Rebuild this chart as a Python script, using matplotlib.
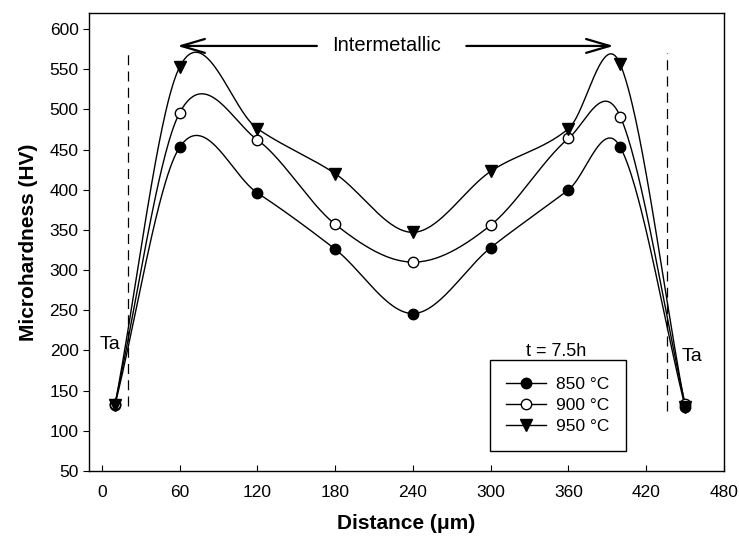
import numpy as np
import matplotlib
matplotlib.use("Agg")
import matplotlib.pyplot as plt

plt.rcParams['font.family'] = ['Liberation Sans', 'DejaVu Sans']

distance = [10, 60, 120, 180, 240, 300, 360, 400, 450]
hv_850 = [132, 453, 396, 326, 246, 328, 400, 453, 130]
hv_900 = [133, 496, 462, 357, 310, 356, 464, 491, 133]
hv_950 = [132, 553, 476, 420, 347, 423, 476, 556, 130]
labels = ['850 °C', '900 °C', '950 °C']
xticks = [0, 60, 120, 180, 240, 300, 360, 420, 480]
yticks = [50, 100, 150, 200, 250, 300, 350, 400, 450, 500, 550, 600]


def smooth_curve(x, y, per_seg=60):
    """Catmull-Rom (non-uniform) Hermite spline through the points."""
    x = np.asarray(x, float)
    y = np.asarray(y, float)
    k = len(x)
    m = np.zeros(k)
    m[0] = (y[1] - y[0]) / (x[1] - x[0])
    m[-1] = (y[-1] - y[-2]) / (x[-1] - x[-2])
    for i in range(1, k - 1):
        m[i] = (y[i + 1] - y[i - 1]) / (x[i + 1] - x[i - 1])
    xs_all, ys_all = [], []
    for i in range(k - 1):
        h = x[i + 1] - x[i]
        t = np.linspace(0, 1, per_seg, endpoint=(i == k - 2))
        h00 = 2 * t ** 3 - 3 * t ** 2 + 1
        h10 = t ** 3 - 2 * t ** 2 + t
        h01 = -2 * t ** 3 + 3 * t ** 2
        h11 = t ** 3 - t ** 2
        xs_all.append(x[i] + t * h)
        ys_all.append(h00 * y[i] + h10 * h * m[i] + h01 * y[i + 1] + h11 * h * m[i + 1])
    return np.concatenate(xs_all), np.concatenate(ys_all)


fig = plt.figure(figsize=(7.39, 5.4), dpi=100)
ax = fig.add_axes([89 / 739, 1 - 471 / 540, (724 - 89) / 739, (471 - 13) / 540])

series = [hv_850, hv_900, hv_950]
styles = [dict(marker='o', mfc='black', mec='black', ms=7.5),
          dict(marker='o', mfc='white', mec='black', ms=7.5),
          dict(marker='v', mfc='black', mec='black', ms=8.5)]
for vals, st, lab in zip(series, styles, labels):
    xs, ys = smooth_curve(distance, vals)
    ax.plot(xs, ys, color='black', lw=1.0, zorder=2)
    ax.plot(distance, vals, linestyle='none', mew=1.0, zorder=3, **st)
    ax.plot([], [], color='black', lw=1.0, label=lab, **st)

ax.plot([20, 20], [131, 572], color='black', lw=0.9, dashes=(8, 5))
ax.plot([436, 436], [125, 570], color='black', lw=0.9, dashes=(8, 5))

ax.annotate('', xy=(56, 579), xytext=(168, 579),
            arrowprops=dict(arrowstyle='->,head_length=1.7,head_width=0.5', lw=1.6, color='black'))
ax.annotate('', xy=(397, 579), xytext=(279, 579),
            arrowprops=dict(arrowstyle='->,head_length=1.7,head_width=0.5', lw=1.6, color='black'))
ax.text(220, 579, 'Intermetallic', ha='center', va='center', fontsize=14.5)
ax.text(-2, 207, 'Ta', ha='left', va='center', fontsize=14)
ax.text(447, 192, 'Ta', ha='left', va='center', fontsize=14)

leg = ax.legend(loc='upper left', bbox_to_anchor=((490 - 89) / 635, (471 - 360) / 458),
                borderaxespad=0, frameon=True, fancybox=False, edgecolor='black', fontsize=12.5,
                handlelength=2.3, borderpad=0.95, labelspacing=0.35, handletextpad=0.55)
leg.get_frame().set_linewidth(1.0)
leg.get_frame().set_facecolor('white')
leg.get_frame().set_alpha(1)
ax.text(((490 + 622) / 2 - 89) / 635, (471 - 352) / 458, 't = 7.5h', transform=ax.transAxes,
        ha='center', va='center', fontsize=13)

ax.set_xlim(-10, 480)
ax.set_ylim(50, 620)
ax.set_xticks(xticks)
ax.set_yticks(yticks)
ax.tick_params(axis='both', labelsize=12.5, length=4, width=0.8, color='black')
ax.tick_params(axis='x', direction='in', pad=10)
ax.tick_params(axis='y', direction='out')
for s in ax.spines.values():
    s.set_linewidth(1.0)
ax.set_xlabel('Distance (μm)', fontsize=15, fontweight='bold', labelpad=10)
ax.set_ylabel('Microhardness (HV)', fontsize=15, fontweight='bold', labelpad=8)

fig.savefig('out.png', dpi=100)
